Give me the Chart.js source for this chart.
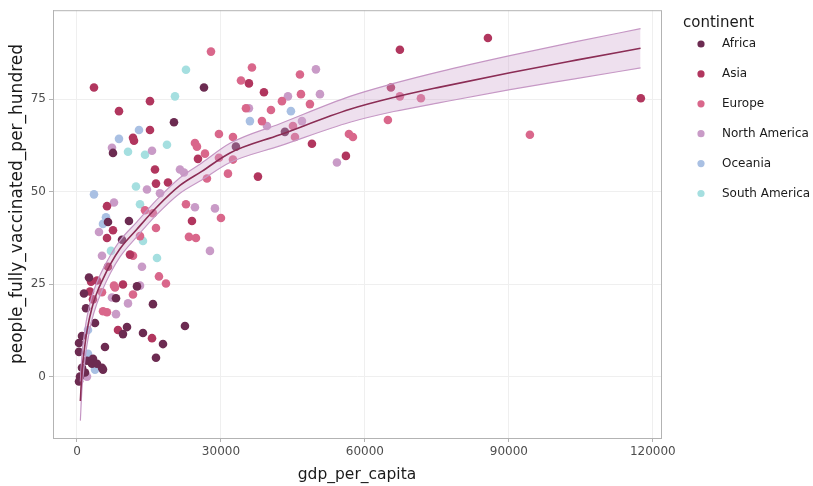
<!DOCTYPE html>
<html>
<head>
<meta charset="utf-8">
<script src="https://cdn.jsdelivr.net/npm/chart.js@4"></script>
<style>
  html, body { margin: 0; padding: 0; background: #fff; }
  #wrap { width: 813px; height: 486px; }
</style>
</head>
<body>
<div id="wrap"><canvas id="chart" width="813" height="486"></canvas></div>
<script>
const continents = ['Africa', 'Asia', 'Europe', 'North America', 'Oceania', 'South America'];
const colors = ['#6c2b51', '#b1365e', '#d9678b', '#c99bc7', '#a9c0e3', '#a5dfe0'];

const africaGdp = [26460, 20210, 7500, 33120, 43330, 6460, 10830, 9380, 2500, 1460, 1880, 3750, 1040, 420, 420, 2080, 3330, 3130, 4170, 5210, 5420, 1040, 625, 1670, 5830, 8130, 12500, 9580, 10420, 13750, 17920, 16460, 15830, 22500, 420];
const africaVax = [78.2, 68.8, 60.5, 62.2, 66.2, 41.8, 42.1, 37.0, 26.8, 22.5, 18.5, 14.5, 11.0, 9.1, 6.7, 4.3, 4.8, 3.5, 3.5, 2.4, 1.9, 2.4, 0.0, 1.1, 8.0, 21.2, 24.4, 11.5, 13.4, 11.8, 8.8, 5.1, 19.6, 13.7, -1.3];

const asiaGdp = [3540, 15210, 8750, 15210, 11670, 11880, 16250, 25210, 35830, 38960, 37710, 16460, 18960, 48960, 56040, 65420, 67290, 85630, 117500, 23960, 6250, 7500, 6250, 11040, 6460, 9580, 2920, 4170, 2710, 3330, 8540, 15630];
const asiaVax = [78.2, 74.5, 71.8, 66.7, 64.6, 63.8, 56.0, 58.9, 79.3, 76.9, 54.1, 52.2, 52.5, 63.0, 59.7, 78.2, 88.4, 91.6, 75.3, 42.1, 46.1, 39.6, 37.5, 33.0, 29.7, 24.9, 25.7, 26.0, 23.0, 20.9, 12.6, 10.4];

const europeGdp = [27920, 24580, 25000, 26670, 29580, 32500, 29580, 32500, 34170, 36460, 35210, 27080, 31460, 40420, 42710, 46460, 46670, 48540, 38540, 45000, 45420, 56670, 57500, 64790, 67290, 71670, 94380, 22710, 30000, 23330, 24790, 14170, 15830, 16460, 13130, 11670, 17080, 18540, 11670, 7710, 5420, 6250, 7920, 5210];
const europeVax = [87.9, 63.2, 62.2, 60.3, 65.6, 64.8, 59.2, 58.7, 80.1, 83.6, 72.6, 53.6, 54.9, 72.1, 74.5, 81.7, 76.4, 73.7, 69.1, 67.8, 64.8, 65.6, 64.8, 69.4, 75.8, 75.3, 65.4, 46.6, 42.9, 37.8, 37.5, 45.0, 44.2, 40.2, 38.0, 32.7, 27.1, 25.2, 22.2, 24.6, 17.7, 17.4, 24.1, 22.8];

const northAmGdp = [35830, 43960, 49790, 50630, 39580, 46880, 54170, 7290, 15630, 21460, 22290, 14580, 17290, 24580, 28750, 27710, 7710, 4580, 5210, 13540, 13130, 7290, 10630, 8130, 2080];
const northAmVax = [72.6, 75.8, 83.1, 76.4, 67.8, 69.1, 57.9, 61.9, 61.1, 56.0, 55.2, 50.6, 49.6, 45.8, 45.5, 34.0, 47.1, 39.1, 32.7, 29.7, 24.6, 21.4, 19.8, 16.9, 0.0];

const oceaniaGdp = [36040, 44580, 12920, 8750, 3540, 6040, 5420, 2290, 2290, 3750];
const oceaniaVax = [69.1, 71.8, 66.7, 64.3, 49.3, 43.1, 41.3, 12.6, 6.2, 1.9];

const southAmGdp = [22710, 20420, 10630, 14170, 18750, 12290, 13130, 13750, 7080, 16670];
const southAmVax = [83.0, 75.8, 60.8, 60.0, 62.7, 51.4, 46.6, 36.7, 34.0, 32.1];

// smooth line + confidence band
const fitGdp = [700, 1040, 1500, 2100, 3100, 4100, 5150, 7000, 8960, 12440, 16600, 21460, 26000, 31880, 42290, 56880, 66000, 75630, 90210, 104000, 117440];
const fitMid = [-6.6, 1.5, 7.0, 12.5, 18.5, 22.5, 25.7, 30.5, 34.6, 39.8, 45.8, 51.7, 55.5, 60.5, 65.4, 72.3, 75.5, 78.3, 82.2, 85.6, 88.8];
const fitLow = [-11.9, -3.2, 2.8, 8.8, 15.3, 19.6, 23.0, 28.1, 32.4, 37.8, 43.8, 49.6, 53.2, 57.9, 62.4, 68.8, 71.7, 74.1, 77.6, 80.6, 83.5];
const fitHigh = [-1.3, 6.2, 11.2, 16.2, 21.7, 25.4, 28.4, 32.9, 36.8, 41.8, 47.8, 53.8, 57.8, 63.1, 68.4, 75.8, 79.3, 82.5, 86.8, 90.6, 94.1];

const xTicks = [0, 30000, 60000, 90000, 120000];
const yTicks = [0, 25, 50, 75];

const gdpLists = [africaGdp, asiaGdp, europeGdp, northAmGdp, oceaniaGdp, southAmGdp];
const vaxLists = [africaVax, asiaVax, europeVax, northAmVax, oceaniaVax, southAmVax];

const toPoints = (xs, ys) => xs.map((x, i) => ({ x: x, y: ys[i] }));

const datasets = [
  {
    type: 'line',
    label: 'fit',
    data: toPoints(fitGdp, fitMid),
    borderColor: '#8b2d55',
    borderWidth: 1.6,
    pointRadius: 0,
    cubicInterpolationMode: 'monotone',
    fill: false,
    order: 0,
  },
  {
    type: 'line',
    label: 'upper',
    data: toPoints(fitGdp, fitHigh),
    borderColor: '#c596c4',
    borderWidth: 1.2,
    backgroundColor: 'rgba(205, 165, 205, 0.35)',
    pointRadius: 0,
    cubicInterpolationMode: 'monotone',
    fill: '+1',
    order: 1,
  },
  {
    type: 'line',
    label: 'lower',
    data: toPoints(fitGdp, fitLow),
    borderColor: '#c596c4',
    borderWidth: 1.2,
    pointRadius: 0,
    cubicInterpolationMode: 'monotone',
    fill: false,
    order: 1,
  },
];

continents.forEach((name, i) => {
  datasets.push({
    type: 'scatter',
    label: name,
    data: toPoints(gdpLists[i], vaxLists[i]),
    backgroundColor: colors[i],
    borderWidth: 0,
    pointRadius: 4.3,
    order: 2,
  });
});

const FONT = "'DejaVu Sans', Verdana, sans-serif";

// panel border, axis titles and legend
const extras = {
  id: 'extras',
  afterDraw(chart) {
    const ctx = chart.ctx;
    const a = chart.chartArea;
    ctx.save();
    ctx.strokeStyle = '#b3b3b3';
    ctx.lineWidth = 1;
    ctx.strokeRect(a.left + 0.5, a.top + 0.5, a.right - a.left, a.bottom - a.top);

    ctx.fillStyle = '#1a1a1a';
    ctx.font = '15.5px ' + FONT;
    ctx.textAlign = 'center';
    ctx.textBaseline = 'middle';
    ctx.fillText('gdp_per_capita', (a.left + a.right) / 2, 475);

    ctx.save();
    ctx.translate(18, 204);
    ctx.rotate(-Math.PI / 2);
    ctx.font = '17px ' + FONT;
    ctx.fillText('people_fully_vaccinated_per_hundred', 0, 0);
    ctx.restore();

    ctx.textAlign = 'left';
    ctx.font = '15px ' + FONT;
    ctx.fillText('continent', 683, 23);
    ctx.font = '12px ' + FONT;
    continents.forEach((name, i) => {
      const y = 44 + i * 29.9;
      ctx.fillStyle = colors[i];
      ctx.beginPath();
      ctx.arc(701, y, 3.6, 0, Math.PI * 2);
      ctx.fill();
      ctx.fillStyle = '#1a1a1a';
      ctx.fillText(name, 722, y);
    });
    ctx.restore();
  }
};

new Chart(document.getElementById('chart').getContext('2d'), {
  data: { datasets: datasets },
  options: {
    responsive: false,
    animation: false,
    layout: { padding: { left: 0, top: 2, right: 152, bottom: 0 } },
    plugins: {
      legend: { display: false },
      tooltip: { enabled: false },
    },
    scales: {
      x: {
        type: 'linear',
        min: -5000,
        max: 121700,
        afterBuildTicks: (scale) => { scale.ticks = xTicks.map(v => ({ value: v })); },
        afterFit: (scale) => { scale.height = 48; },
        ticks: {
          includeBounds: false,
          padding: 3,
          color: '#4d4d4d',
          font: { family: FONT, size: 12 },
          maxRotation: 0,
          callback: (v) => String(v),
        },
        grid: { color: '#efefef', lineWidth: 1, tickLength: 4, tickColor: '#b3b3b3' },
        border: { display: true, color: '#b3b3b3' },
      },
      y: {
        type: 'linear',
        min: -16.6,
        max: 99.1,
        afterBuildTicks: (scale) => { scale.ticks = yTicks.map(v => ({ value: v })); },
        afterFit: (scale) => { scale.width = 53; },
        ticks: {
          includeBounds: false,
          padding: 3,
          color: '#4d4d4d',
          font: { family: FONT, size: 12 },
          callback: (v) => String(v),
        },
        grid: { color: '#efefef', lineWidth: 1, tickLength: 4, tickColor: '#b3b3b3' },
        border: { display: true, color: '#b3b3b3' },
      },
    },
  },
  plugins: [extras],
});
</script>
</body>
</html>
